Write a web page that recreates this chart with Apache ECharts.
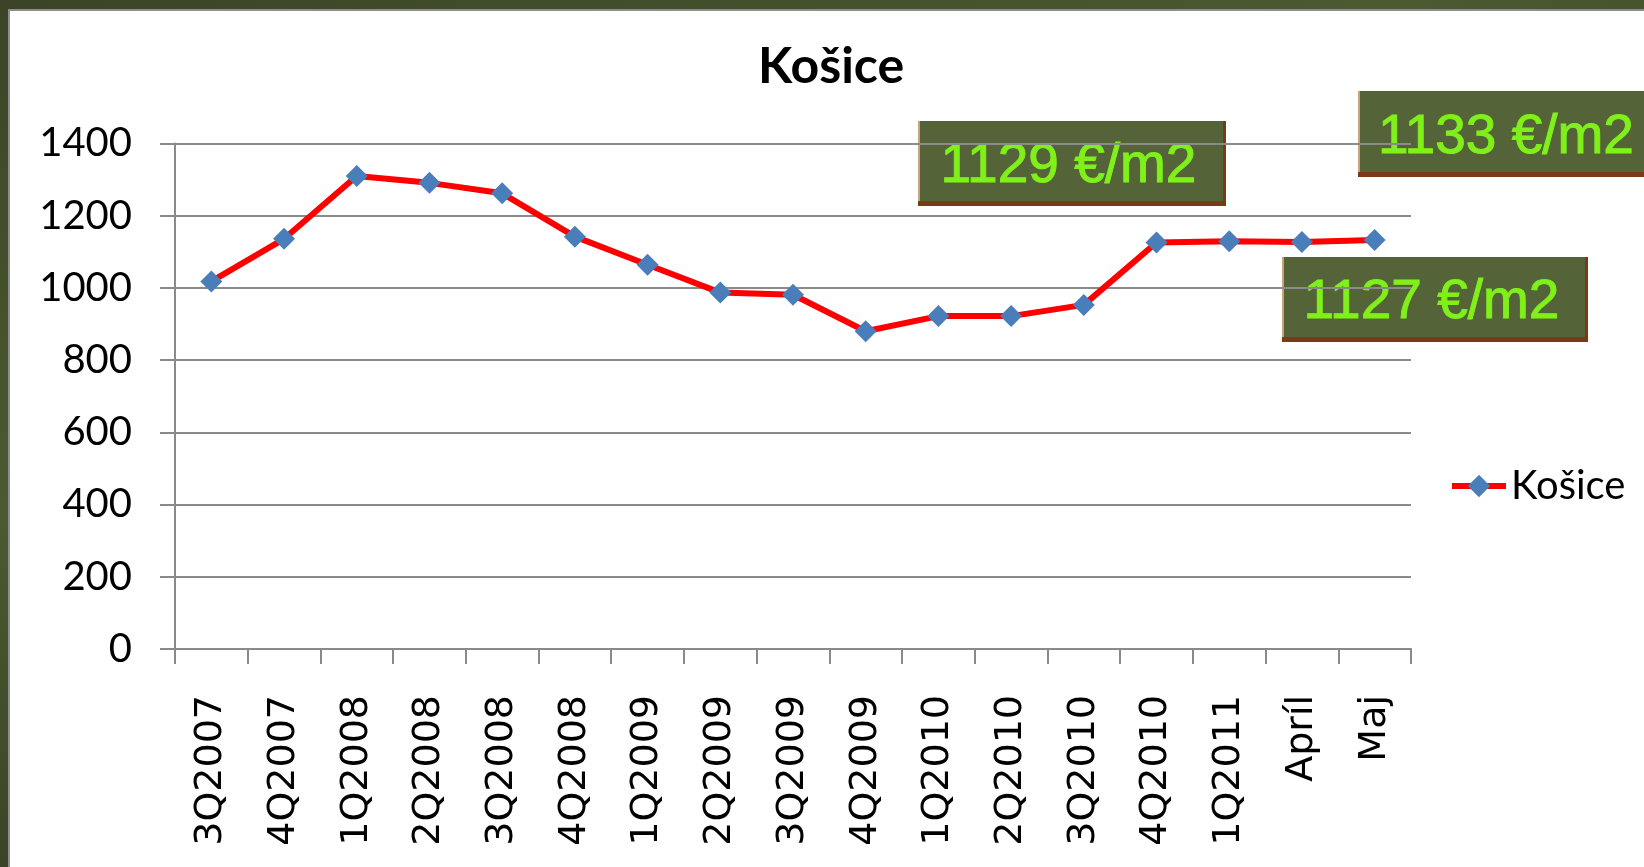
<!DOCTYPE html>
<html>
<head>
<meta charset="utf-8">
<script src="https://cdn.jsdelivr.net/npm/echarts@6/dist/echarts.min.js"></script>
<style>
  html, body { margin: 0; padding: 0; }
  body {
    width: 1644px; height: 867px; overflow: hidden; position: relative;
    background: linear-gradient(160deg, #3b4426 0%, #4b5a31 35%, #3a4426 60%, #4a5930 100%);
  }
  #panel {
    position: absolute; left: 8px; top: 9px; right: 0; bottom: 0;
    background: #ffffff; border-left: 2px solid #8e8e8e; border-top: 2px solid #8e8e8e;
  }
  #chart { position: absolute; left: 0; top: 0; width: 1644px; height: 867px; }
</style>
</head>
<body>
<div id="panel"></div>
<div id="chart"></div>
<script>
// ---- data ----
const titleText = 'Košice';
const seriesName = 'Košice';
const categories = ['3Q2007','4Q2007','1Q2008','2Q2008','3Q2008','4Q2008','1Q2009','2Q2009','3Q2009','4Q2009','1Q2010','2Q2010','3Q2010','4Q2010','1Q2011','Apríl','Maj'];
const prices = [1018, 1136, 1310, 1291, 1262, 1142, 1064, 987, 981, 880, 922, 922, 953, 1126, 1129, 1127, 1133];
const yTicks = { min: 0, max: 1400, interval: 200 };
const calloutTexts = ['1129 €/m2', '1127 €/m2', '1133 €/m2'];

// ---- callout boxes (hand-placed annotations) ----
function callout(text, x, y, w, h) {
  return {
    type: 'group', x: x, y: y, silent: true,
    children: [
      { type: 'rect', shape: { x: 0, y: 0, width: w + 3, height: h + 5 }, style: { fill: '#7a3a17' } },
      { type: 'rect', shape: { x: 0, y: 0, width: w, height: h }, style: { fill: '#556338' } },
      { type: 'rect', shape: { x: 0, y: 0, width: 2, height: h }, style: { fill: '#c9a27e' } },
      { type: 'text', x: w / 2 - 2, y: h / 2 + 6,
        style: { text: text, fill: '#7ff01a', stroke: '#7ff01a', lineWidth: 1,
                 font: '55px "Liberation Sans", Arial, sans-serif',
                 align: 'center', verticalAlign: 'middle' } }
    ]
  };
}

const chart = echarts.init(document.getElementById('chart'), null, { renderer: 'canvas' });
chart.setOption({
  backgroundColor: 'transparent',
  animation: false,
  title: {
    text: titleText, left: 758, top: 42, padding: 0,
    textStyle: { fontFamily: 'Lato', fontWeight: 'bold', fontSize: 50, color: '#000' }
  },
  legend: {
    data: [seriesName], left: 1449, top: 466, padding: 0,
    itemWidth: 54, itemHeight: 28, itemGap: 8,
    lineStyle: { width: 6 },
    textStyle: { fontFamily: 'Lato', fontSize: 40, color: '#000', lineHeight: 40 }
  },
  grid: { left: 175, right: 233, top: 143.5, bottom: 218, containLabel: false, outerBoundsMode: 'none' },
  xAxis: {
    type: 'category', data: categories, boundaryGap: true,
    axisLine: { show: true, lineStyle: { color: '#8a8a8a', width: 2 } },
    axisTick: { show: true, length: 15, lineStyle: { color: '#8a8a8a', width: 2 } },
    axisLabel: { interval: 0, rotate: 90, margin: 46, fontFamily: 'DejaVu Sans', fontSize: 38, color: '#000' },
    splitLine: { show: false }
  },
  yAxis: {
    type: 'value', min: yTicks.min, max: yTicks.max, interval: yTicks.interval,
    axisLine: { show: true, lineStyle: { color: '#8a8a8a', width: 2 } },
    axisTick: { show: true, length: 15, lineStyle: { color: '#8a8a8a', width: 2 } },
    axisLabel: { margin: 43, fontFamily: 'Lato', fontSize: 40, color: '#000', formatter: v => String(v) },
    splitLine: { show: true, lineStyle: { color: '#8a8a8a', width: 2 } }
  },
  series: [{
    name: seriesName, type: 'line', data: prices,
    symbol: 'diamond', symbolSize: 22, showAllSymbol: true,
    lineStyle: { color: '#ff0000', width: 6 },
    itemStyle: { color: '#4a7ebb' },
    z: 3
  }],
  graphic: [
    callout(calloutTexts[0], 918, 121, 305, 80),
    callout(calloutTexts[1], 1282, 257, 303, 80),
    callout(calloutTexts[2], 1358, 91, 300, 81)
  ]
});
</script>
</body>
</html>
